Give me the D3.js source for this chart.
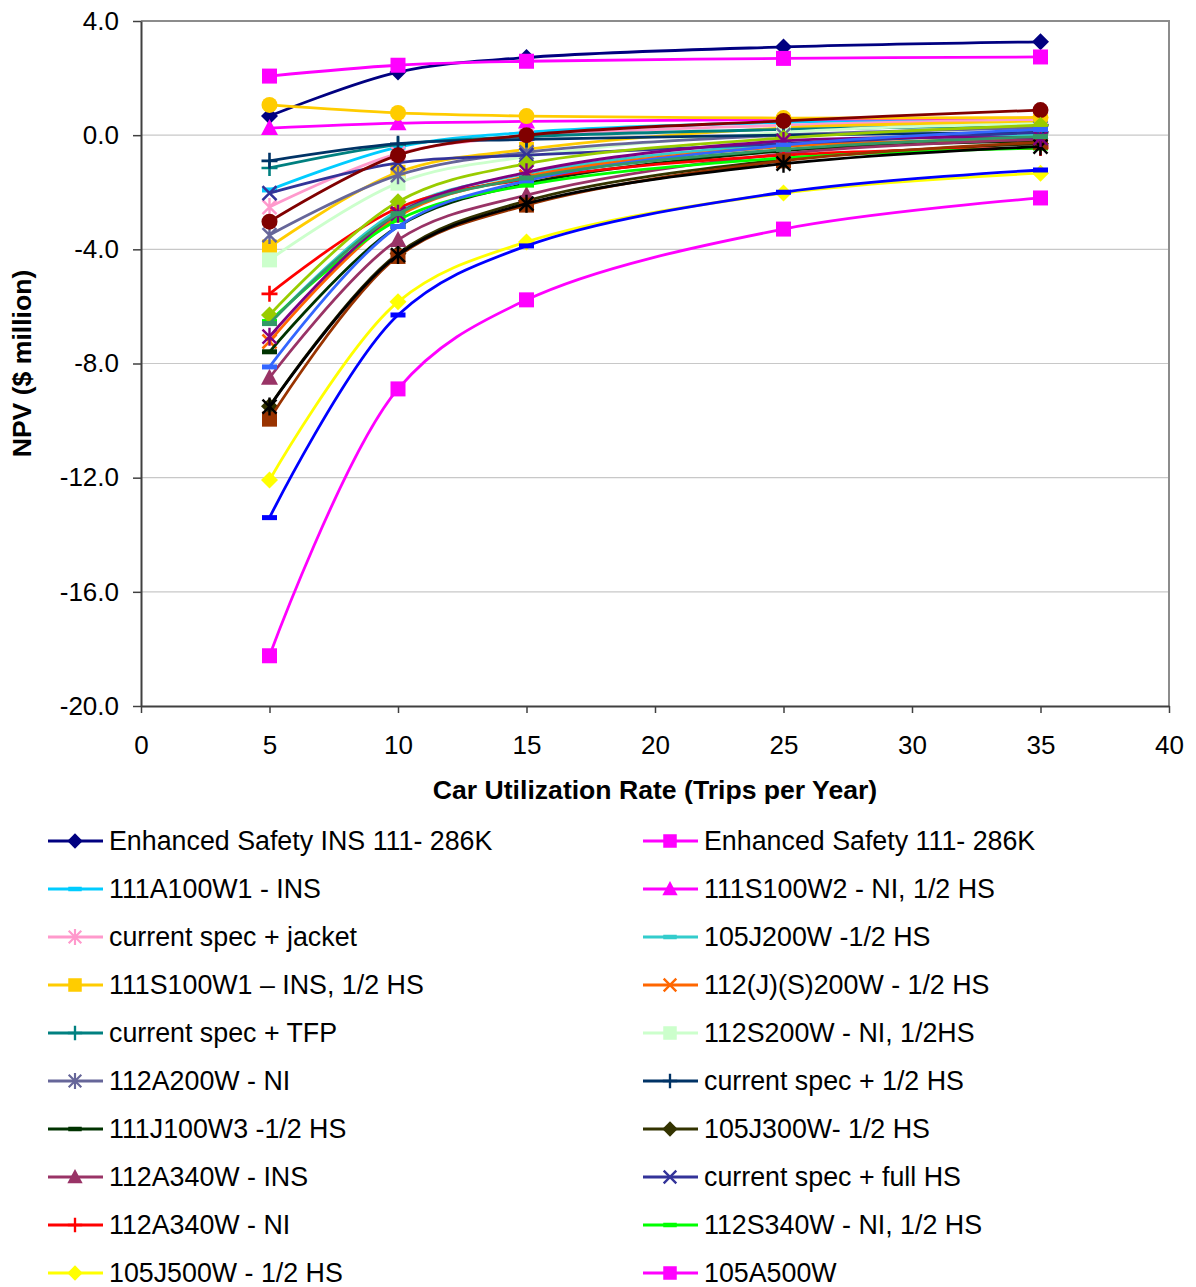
<!DOCTYPE html>
<html><head><meta charset="utf-8">
<script src="https://cdn.jsdelivr.net/npm/d3@7"></script>
<style>
body{margin:0;background:#fff;}
text{font-family:"Liberation Sans",Arial,sans-serif;fill:#000;}
</style>
</head><body>
<svg id="chart" width="1196" height="1287"></svg>
<script>
// ---------- DATA ----------
const tripsPerYear = [5, 10, 15, 25, 35];
const xTickValues = [0, 5, 10, 15, 20, 25, 30, 35, 40];
const yTickValues = [-20, -16, -12, -8, -4, 0, 4];

const seriesNames = [
  "Enhanced Safety INS 111- 286K",
  "Enhanced Safety 111- 286K",
  "111A100W1 - INS",
  "111S100W2 - NI, 1/2 HS",
  "current spec + jacket",
  "105J200W -1/2 HS",
  "111S100W1 \u2013 INS, 1/2 HS",
  "112(J)(S)200W - 1/2 HS",
  "current spec + TFP",
  "112S200W - NI, 1/2HS",
  "112A200W - NI",
  "current spec + 1/2 HS",
  "111J100W3 -1/2 HS",
  "105J300W- 1/2 HS",
  "112A340W - INS",
  "current spec + full HS",
  "112A340W - NI",
  "112S340W - NI, 1/2 HS",
  "105J500W - 1/2 HS",
  "105A500W",
  // series whose legend entries fall below the visible picture
  "series 21", "series 22", "series 23", "series 24", "series 25",
  "series 26", "series 27", "series 28", "series 29"
];

const npvEnhancedIns   = [0.67, 2.21, 2.72, 3.09, 3.27];
const npvEnhanced      = [2.07, 2.45, 2.59, 2.69, 2.74];
const npv111A100W1     = [-1.92, -0.42, 0.10, 0.45, 0.60];
const npv111S100W2     = [0.25, 0.42, 0.48, 0.55, 0.60];
const npvJacket        = [-2.52, -0.65, -0.05, 0.35, 0.55];
const npv105J200W      = [-6.60, -2.65, -1.35, -0.30, 0.00];
const npv111S100W1     = [-3.92, -1.30, -0.50, 0.25, 0.45];
const npv112JS200W     = [-7.23, -2.85, -1.45, -0.40, -0.15];
const npvTFP           = [-1.15, -0.33, -0.05, 0.20, 0.35];
const npv112S200W      = [-4.37, -1.68, -0.75, 0.10, 0.40];
const npv112A200W      = [-3.50, -1.40, -0.60, 0.00, 0.25];
const npvHalfHS        = [-0.90, -0.30, -0.15, 0.00, 0.10];
const npv111J100W3     = [-7.59, -3.20, -1.70, -0.55, -0.20];
const npv105J300W      = [-9.50, -4.15, -2.30, -0.85, -0.30];
const npv112A340WIns   = [-8.50, -3.67, -2.10, -0.65, -0.15];
const npvFullHS        = [-2.03, -0.97, -0.70, -0.30, 0.10];
const npv112A340WNI    = [-5.56, -2.55, -1.55, -0.70, -0.45];
const npv112S340W      = [-6.53, -2.97, -1.75, -0.80, -0.45];
const npv105J500W      = [-12.08, -5.84, -3.74, -2.03, -1.33];
const npv105A500W      = [-18.24, -8.89, -5.77, -3.29, -2.20];
const npvSeries21      = [1.06, 0.78, 0.67, 0.60, 0.62];
const npvSeries22      = [-3.03, -0.70, 0.00, 0.50, 0.88];
const npvSeries23      = [-9.95, -4.25, -2.45, -0.90, -0.25];
const npvSeries24      = [-13.40, -6.30, -3.88, -2.00, -1.22];
const npvSeries25      = [-9.51, -4.20, -2.40, -1.00, -0.40];
const npvSeries26      = [-6.30, -2.33, -1.00, -0.10, 0.35];
const npvSeries27      = [-7.06, -2.75, -1.30, -0.20, -0.10];
const npvSeries28      = [-8.12, -3.20, -1.60, -0.35, 0.20];
const npvSeries29      = [-6.60, -2.75, -1.50, -0.50, -0.05];

const seriesValues = [
  npvEnhancedIns, npvEnhanced, npv111A100W1, npv111S100W2, npvJacket,
  npv105J200W, npv111S100W1, npv112JS200W, npvTFP, npv112S200W,
  npv112A200W, npvHalfHS, npv111J100W3, npv105J300W, npv112A340WIns,
  npvFullHS, npv112A340WNI, npv112S340W, npv105J500W, npv105A500W,
  npvSeries21, npvSeries22, npvSeries23, npvSeries24, npvSeries25,
  npvSeries26, npvSeries27, npvSeries28, npvSeries29
];

// ---------- STYLE ----------
const seriesColors = [
  "#000080", "#FF00FF", "#00CCFF", "#FF00FF", "#FF99CC",
  "#33CCCC", "#FFCC00", "#FF6600", "#008080", "#CCFFCC",
  "#666699", "#003366", "#003300", "#333300", "#993366",
  "#333399", "#FF0000", "#00FF00", "#FFFF00", "#FF00FF",
  "#FFCC00", "#800000", "#993300", "#0000FF", "#000000",
  "#99CC00", "#800080", "#3366FF", "#339966"
];
const seriesMarkers = [
  "diamond", "square", "dash", "triangle", "asterisk",
  "dash", "square", "x", "plus", "square",
  "asterisk", "plus", "dash", "diamond", "triangle",
  "x", "plus", "dash", "diamond", "square",
  "circle", "circle", "square", "dash", "asterisk",
  "diamond", "asterisk", "dash", "dash"
];
const legendVisibleCount = 20;

const W = 1196, H = 1287;
const plot = {left: 141, right: 1169, top: 21, bottom: 706};
const TICK_FONT = 26;
const TITLE_FONT = 26.6;
const LEGEND_FONT = 26.8;

const svg = d3.select("#chart");
svg.append("rect").attr("width", W).attr("height", H).attr("fill", "#fff");

const x = d3.scaleLinear().domain([0, 40]).range([plot.left, plot.right]);
const y = d3.scaleLinear().domain([-20, 4]).range([plot.bottom, plot.top]);

// gridlines
svg.append("g").selectAll("line").data(yTickValues.filter(v => v > -20 && v < 4)).join("line")
  .attr("x1", plot.left).attr("x2", plot.right)
  .attr("y1", d => y(d)).attr("y2", d => y(d))
  .attr("stroke", "#c8c8c8").attr("stroke-width", 1.2);

// plot border (top & right)
svg.append("path")
  .attr("d", `M${plot.left},${plot.top}H${plot.right}V${plot.bottom}`)
  .attr("fill", "none").attr("stroke", "#8c8c8c").attr("stroke-width", 2);

// axes
const yAxis = d3.axisLeft(y).tickValues(yTickValues).tickSize(8).tickSizeOuter(0)
  .tickPadding(14).tickFormat(d => d.toFixed(1));
const gy = svg.append("g").attr("transform", `translate(${plot.left},0)`).call(yAxis);
const xAxis = d3.axisBottom(x).tickValues(xTickValues).tickSize(7).tickSizeOuter(0)
  .tickPadding(23).tickFormat(d => String(d));
const gx = svg.append("g").attr("transform", `translate(0,${plot.bottom})`).call(xAxis);
[gx, gy].forEach(g => {
  g.select(".domain").attr("stroke", "#404040").attr("stroke-width", 2);
  g.selectAll(".tick line").attr("stroke", "#404040").attr("stroke-width", 1.5);
  g.selectAll(".tick text").attr("font-size", TICK_FONT)
    .attr("font-family", "'Liberation Sans', Arial, sans-serif").attr("fill", "#000");
});

// axis titles
svg.append("text")
  .attr("transform", `translate(31,${(plot.top + plot.bottom) / 2}) rotate(-90)`)
  .attr("text-anchor", "middle").attr("font-size", TITLE_FONT).attr("font-weight", "bold")
  .text("NPV ($ million)");
svg.append("text")
  .attr("x", (plot.left + plot.right) / 2).attr("y", 799)
  .attr("text-anchor", "middle").attr("font-size", TITLE_FONT).attr("font-weight", "bold")
  .text("Car Utilization Rate (Trips per Year)");

// markers
function drawMarker(g, type, color, cx, cy, s) {
  s = s || 1;
  const m = g.append("g").attr("transform", `translate(${cx},${cy}) scale(${s})`);
  switch (type) {
    case "diamond":
      m.append("path").attr("d", "M0,-8.5L8.5,0L0,8.5L-8.5,0Z").attr("fill", color); break;
    case "square":
      m.append("rect").attr("x", -7.5).attr("y", -7.5).attr("width", 15).attr("height", 15).attr("fill", color); break;
    case "triangle":
      m.append("path").attr("d", "M0,-9L8.5,7L-8.5,7Z").attr("fill", color); break;
    case "circle":
      m.append("circle").attr("r", 8).attr("fill", color); break;
    case "dash":
      m.append("rect").attr("x", -7.5).attr("y", -2.5).attr("width", 15).attr("height", 5).attr("fill", color); break;
    case "plus":
      m.append("path").attr("d", "M-8,0H8M0,-8V8").attr("stroke", color).attr("stroke-width", 2.6).attr("fill", "none"); break;
    case "x":
      m.append("path").attr("d", "M-7,-7L7,7M-7,7L7,-7").attr("stroke", color).attr("stroke-width", 2.6).attr("fill", "none"); break;
    case "asterisk":
      m.append("path").attr("d", "M-7,-7L7,7M-7,7L7,-7M0,-9V9").attr("stroke", color).attr("stroke-width", 2.4).attr("fill", "none"); break;
  }
}

// series
const line = d3.line().x(d => x(d[0])).y(d => y(d[1])).curve(d3.curveCatmullRom.alpha(0.5));
const gs = svg.append("g");
seriesValues.forEach((vals, i) => {
  const pts = tripsPerYear.map((t, j) => [t, vals[j]]);
  const g = gs.append("g");
  g.append("path").attr("d", line(pts)).attr("fill", "none")
    .attr("stroke", seriesColors[i]).attr("stroke-width", 2.8);
  pts.forEach(p => drawMarker(g, seriesMarkers[i], seriesColors[i], x(p[0]), y(p[1])));
});

// legend
const lg = svg.append("g");
for (let i = 0; i < legendVisibleCount; i++) {
  const col = i % 2, row = Math.floor(i / 2);
  const x0 = col === 0 ? 48 : 643;
  const cy = 841 + row * 48;
  lg.append("line").attr("x1", x0).attr("x2", x0 + 55).attr("y1", cy).attr("y2", cy)
    .attr("stroke", seriesColors[i]).attr("stroke-width", 2.8);
  drawMarker(lg, seriesMarkers[i], seriesColors[i], x0 + 27, cy, 0.9);
  lg.append("text").attr("x", x0 + 61).attr("y", cy).attr("dy", "0.35em")
    .attr("font-size", LEGEND_FONT).text(seriesNames[i]);
}
</script>
</body></html>
